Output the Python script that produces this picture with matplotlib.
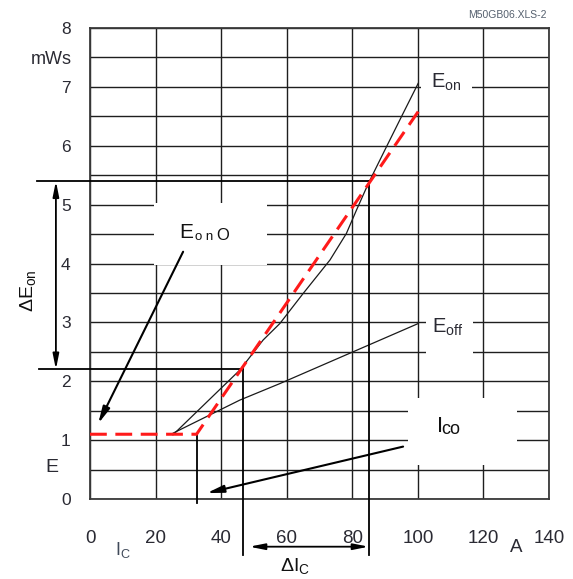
import matplotlib
matplotlib.use('Agg')
import matplotlib.pyplot as plt
from matplotlib.patches import Rectangle

plt.rcParams['font.family'] = ['Liberation Sans', 'DejaVu Sans']
plt.rcParams['mathtext.fontset'] = 'custom'
plt.rcParams['mathtext.rm'] = 'Liberation Sans'
plt.rcParams['mathtext.it'] = 'Liberation Sans:italic'
plt.rcParams['mathtext.bf'] = 'Liberation Sans:bold'

# curves (Ic in A, E in mWs)
eon_ic = [25.3, 45.7, 52.8, 57.9, 65.0, 73.2, 78.2, 81.3, 84.9, 90.4, 95.5, 100.1]
eon_e = [1.09, 2.19, 2.70, 2.98, 3.49, 4.06, 4.51, 4.91, 5.36, 5.98, 6.55, 7.06]
eoff_ic = [25.4, 45.7, 57.9, 100.1]
eoff_e = [1.12, 1.68, 1.96, 2.98]
lin_ic = [0, 32.5, 100.1]
lin_e = [1.1, 1.1, 6.58]

# construction points
ic_a, e_a = 46.6, 2.2
ic_b, e_b = 85.0, 5.4
ic_co = 32.5

xticks = [0, 20, 40, 60, 80, 100, 120, 140]
yticks = [0, 1, 2, 3, 4, 5, 6, 7, 8]

txt = '#2a2a33'
gridc = '#1e1e1e'
fig = plt.figure(figsize=(5.73, 5.79), dpi=100)
ax = fig.add_axes([90 / 573, 80 / 579, 459 / 573, 471 / 579])
ax.set_xlim(0, 140)
ax.set_ylim(0, 8)

# grid
ax.set_axisbelow(True)
ax.set_xticks(xticks)
ax.set_yticks(yticks)
ax.set_yticks([v + 0.5 for v in range(8)], minor=True)
ax.grid(True, color=gridc, linewidth=1.0)
ax.grid(True, which='minor', axis='y', color=gridc, linewidth=1.0)
ax.tick_params(axis='both', which='both', length=0)
ax.tick_params(axis='y', pad=14, labelsize=12.5, labelcolor=txt)
ax.tick_params(axis='x', pad=22, labelsize=13.5, labelcolor=txt)
for s in ax.spines.values():
    s.set_color('#3a3a3a')
    s.set_linewidth(1.3)

# white label boxes that interrupt the grid
for x0, y0, w, h in [(19.5, 3.97, 34.5, 1.06), (97.0, 0.58, 33.2, 1.13),
                     (101.0, 6.85, 15.5, 0.3), (102.6, 2.45, 14.2, 0.6)]:
    ax.add_patch(Rectangle((x0, y0), w, h, facecolor='white', edgecolor='none', zorder=1))

ax.plot(eon_ic, eon_e, color='#1a1a1a', lw=0.9, zorder=3)
ax.plot(eoff_ic, eoff_e, color='#1a1a1a', lw=0.9, zorder=3)
ax.plot(lin_ic, lin_e, color='#ff1a1a', lw=2.2, dashes=(5.5, 2.8), zorder=4)

# construction lines
k = dict(color='black', lw=1.3, clip_on=False, zorder=3)
ax.plot([-16.2, ic_b], [e_b, e_b], **k)
ax.plot([-15.5, ic_a], [e_a, e_a], **k)
ax.plot([ic_a, ic_a], [e_a, -0.95], **k)
ax.plot([ic_b, ic_b], [e_b, -0.95], **k)
ax.plot([ic_co, ic_co], [1.1, -0.06], **k)

arr = dict(arrowstyle='<|-|>,head_length=0.9,head_width=0.18', color='black', lw=1.3,
           shrinkA=0, shrinkB=0)
ax.annotate('', xy=(-10.4, e_b), xytext=(-10.4, e_a), arrowprops=arr, annotation_clip=False)
ax.annotate('', xy=(ic_a + 2.0, -0.81), xytext=(ic_b, -0.81), arrowprops=arr, annotation_clip=False)

one = dict(arrowstyle='-|>,head_length=1.0,head_width=0.22', color='black', lw=1.5,
           shrinkA=0, shrinkB=0)
ax.annotate('', xy=(2.5, 1.28), xytext=(28.4, 4.2), arrowprops=one)
ax.annotate('', xy=(35.6, 0.1), xytext=(95.5, 0.89), arrowprops=one)

# labels
ax.text(104, 6.98, r'$\mathrm{E_{on}}$', fontsize=14.5, color=txt)
ax.text(104.4, 2.82, r'$\mathrm{E_{off}}$', fontsize=14.5, color=txt)
ax.text(27.2, 4.44, 'E', fontsize=15, color='#111111')
ax.text(32.0, 4.40, 'o n', fontsize=9.5, color='#111111')
ax.text(38.4, 4.40, 'O', fontsize=12, color='#111111')
ax.text(105.7, 1.14, 'I', fontsize=16, color='#111111')
ax.text(107.2, 1.10, 'co', fontsize=13, color='#111111')
ax.text(-18.9, 3.53, r'$\Delta\mathrm{E_{on}}$', fontsize=14, rotation=90,
        ha='center', va='center', color='#111111')
ax.text(57.9, -1.23, r'$\Delta\mathrm{I_C}$', fontsize=14, color='#111111')
ax.text(7.6, -0.95, r'$\mathrm{I_C}$', fontsize=13, color='#404a5a')
ax.text(130.1, -0.895, 'A', fontsize=13.5, ha='center', color=txt)
ax.text(-5.6, 7.39, 'mWs', fontsize=13, ha='right', color=txt)
ax.text(-9.7, 0.46, 'E', fontsize=14, ha='right', color=txt)
fig.text(547 / 573, 1 - 15 / 579, 'M50GB06.XLS-2', fontsize=7.5, ha='right', va='center',
         color='#55606e')

fig.savefig('out.png', dpi=100)
